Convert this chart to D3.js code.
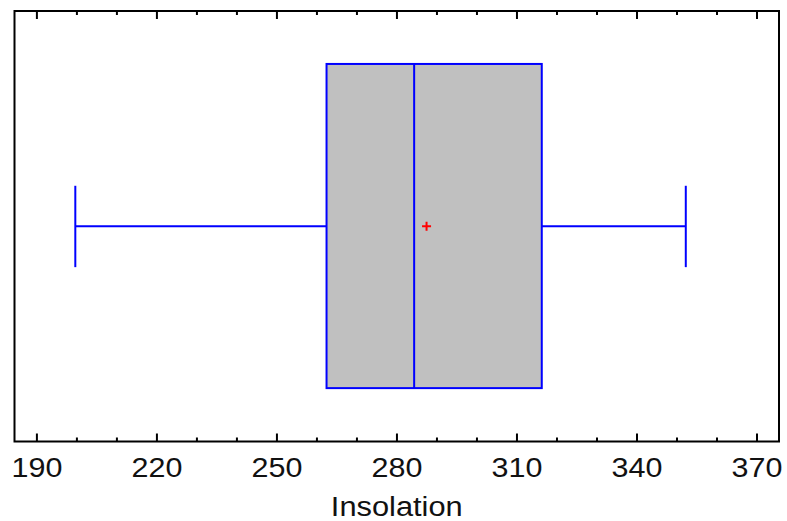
<!DOCTYPE html>
<html>
<head>
<meta charset="utf-8">
<script src="https://cdn.jsdelivr.net/npm/d3@7"></script>
<style>
  body { margin: 0; background: #fff; }
  svg { display: block; }
</style>
</head>
<body>
<div id="chart"></div>
<script>
const variableName = 'Insolation'
// five-number summary + mean
const whiskerLow = [199.6]
const quartiles = [262.4, 284.3, 316.2]
const whiskerHigh = [352.2]
const meanValue = [287.4]
const majorTicks = [190, 220, 250, 280, 310, 340, 370]
const minorTicks = d3.range(190, 371, 10)

const width = 787
const height = 521
const margin = { top: 11, right: 8, bottom: 79.5, left: 14.5 }

const svg = d3.select('#chart')
  .append('svg')
  .attr('width', width)
  .attr('height', height)

const plotW = width - margin.left - margin.right
const plotH = height - margin.top - margin.bottom

const x = d3.scaleLinear()
  .domain([184.4, 375.5])
  .range([margin.left, margin.left + plotW])

const y = d3.scaleLinear()
  .domain([0, 1])
  .range([margin.top + plotH, margin.top])

const blue = '#0000ff'
const font = 'Liberation Sans, Arial, sans-serif'

// frame
svg.append('rect')
  .attr('x', margin.left)
  .attr('y', margin.top)
  .attr('width', plotW)
  .attr('height', plotH)
  .attr('fill', 'none')
  .attr('stroke', '#000')
  .attr('stroke-width', 2)

// ticks on bottom and top edges, pointing inward
const bottomY = margin.top + plotH
const topY = margin.top
svg.selectAll('.tick-b')
  .data(minorTicks)
  .enter().append('line')
  .attr('x1', d => x(d)).attr('x2', d => x(d))
  .attr('y1', bottomY).attr('y2', d => bottomY - (majorTicks.includes(d) ? 8 : 4))
  .attr('stroke', '#000').attr('stroke-width', 2)

svg.selectAll('.tick-t')
  .data(minorTicks)
  .enter().append('line')
  .attr('x1', d => x(d)).attr('x2', d => x(d))
  .attr('y1', topY).attr('y2', d => topY + (majorTicks.includes(d) ? 8 : 4))
  .attr('stroke', '#000').attr('stroke-width', 2)

// labels are slightly stretched horizontally in the original
svg.selectAll('.tick-label')
  .data(majorTicks)
  .enter().append('text')
  .attr('transform', d => `translate(${x(d)},476.5) scale(1.09,1)`)
  .attr('text-anchor', 'middle')
  .attr('font-family', font)
  .attr('font-size', '28px')
  .attr('fill', '#111')
  .text(d => d)

svg.append('text')
  .attr('transform', `translate(${margin.left + plotW / 2},516) scale(1.1,1)`)
  .attr('text-anchor', 'middle')
  .attr('font-family', font)
  .attr('font-size', '28px')
  .attr('fill', '#111')
  .text(variableName)

// box plot
const [q1, med, q3] = quartiles
const g = svg.append('g')
  .attr('stroke', blue)
  .attr('stroke-width', 2)

g.append('rect')
  .attr('x', x(q1))
  .attr('y', y(0.877))
  .attr('width', x(q3) - x(q1))
  .attr('height', y(0.124) - y(0.877))
  .attr('fill', '#c0c0c0')

g.append('line')
  .attr('x1', x(med)).attr('x2', x(med))
  .attr('y1', y(0.877)).attr('y2', y(0.124))

// whiskers
g.append('line')
  .attr('x1', x(whiskerLow[0])).attr('x2', x(q1))
  .attr('y1', y(0.5)).attr('y2', y(0.5))
g.append('line')
  .attr('x1', x(q3)).attr('x2', x(whiskerHigh[0]))
  .attr('y1', y(0.5)).attr('y2', y(0.5))

// caps
;[whiskerLow[0], whiskerHigh[0]].forEach(v => {
  g.append('line')
    .attr('x1', x(v)).attr('x2', x(v))
    .attr('y1', y(0.594)).attr('y2', y(0.405))
})

// mean marker
const mx = x(meanValue[0])
const my = y(0.5)
svg.append('path')
  .attr('d', `M${mx - 4.5},${my}H${mx + 4.5}M${mx},${my - 4.5}V${my + 4.5}`)
  .attr('stroke', '#ff0000')
  .attr('stroke-width', 2)
  .attr('fill', 'none')
</script>
</body>
</html>
